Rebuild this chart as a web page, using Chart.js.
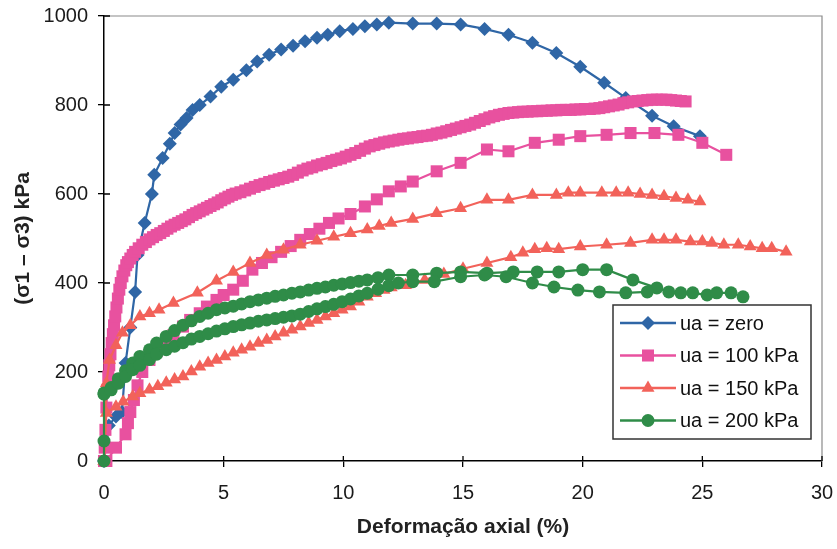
<!DOCTYPE html>
<html><head><meta charset="utf-8">
<script src="https://cdn.jsdelivr.net/npm/chart.js@4/dist/chart.umd.min.js"></script>
<style>html,body{margin:0;padding:0;background:#fff}#wrap{width:837px;height:549px;position:relative}</style>
</head><body><div id="wrap"><canvas id="c" width="837" height="549"></canvas></div>
<script>
// ---- data ----
const xTicks = [0, 5, 10, 15, 20, 25, 30];
const yTicks = [0, 200, 400, 600, 800, 1000];
const xTitle = 'Deformação axial (%)';
const yTitle = '(σ1 – σ3) kPa';
const seriesNames = ['ua = zero', 'ua = 100 kPa', 'ua = 150 kPa', 'ua = 200 kPa'];

// ua = zero
const zeroX = [0, 0.2, 0.5, 0.75, 0.9, 1.1, 1.3, 1.4, 1.7, 2.0, 2.1, 2.45, 2.75, 2.95, 3.2, 3.45, 3.7, 4.0, 4.45, 4.9, 5.4, 5.95, 6.4, 6.9, 7.4, 7.9, 8.4, 8.9, 9.35, 9.85, 10.4, 10.9, 11.4, 11.9, 12.9, 13.9, 14.9, 15.9, 16.9, 17.9, 18.9, 19.9, 20.9, 21.8, 22.9, 23.8, 24.9];
const zeroY = [0, 80, 100, 110, 220, 300, 380, 463, 535, 600, 643, 681, 713, 737, 756, 771, 789, 800, 819, 841, 857, 878, 898, 913, 925, 933, 943, 951, 958, 966, 971, 977, 981, 985, 983, 983, 981, 971, 958, 940, 917, 886, 850, 816, 776, 752, 730];

// ua = 100 kPa, test A (dense)
const p100aX = [0, 0.03, 0.06, 0.1, 0.14, 0.18, 0.22, 0.27, 0.32, 0.37, 0.42, 0.47, 0.52, 0.58, 0.64, 0.7, 0.77, 0.85, 0.93, 1.0, 1.1, 1.2, 1.3, 1.45, 1.6, 1.75, 1.9, 2.05, 2.2, 2.35, 2.5, 2.65, 2.8, 2.95, 3.1, 3.25, 3.4, 3.55, 3.7, 3.85, 4.0, 4.15, 4.3, 4.45, 4.6, 4.75, 4.9, 5.05, 5.2, 5.35, 5.5, 5.7, 5.9, 6.1, 6.3, 6.5, 6.7, 6.9, 7.1, 7.3, 7.5, 7.7, 7.9, 8.1, 8.3, 8.5, 8.7, 8.9, 9.1, 9.3, 9.5, 9.7, 9.9, 10.1, 10.3, 10.5, 10.7, 10.9, 11.1, 11.3, 11.5, 11.7, 11.9, 12.1, 12.3, 12.5, 12.7, 12.9, 13.1, 13.3, 13.5, 13.7, 13.9, 14.1, 14.3, 14.5, 14.7, 14.9, 15.1, 15.3, 15.5, 15.7, 15.9, 16.1, 16.3, 16.5, 16.7, 16.9, 17.1, 17.3, 17.5, 17.7, 17.9, 18.1, 18.3, 18.5, 18.7, 18.9, 19.1, 19.3, 19.5, 19.7, 19.9, 20.1, 20.3, 20.5, 20.7, 20.9, 21.1, 21.3, 21.5, 21.7, 21.9, 22.1, 22.3, 22.5, 22.7, 22.9, 23.1, 23.3, 23.5, 23.7, 23.9, 24.1, 24.3];
const p100aY = [0, 30, 70, 120, 160, 190, 215, 240, 265, 285, 305, 325, 345, 365, 385, 400, 415, 428, 440, 447, 455, 463, 470, 478, 486, 492, 498, 503, 508, 512, 517, 522, 527, 531, 535, 539, 543, 548, 553, 557, 561, 565, 569, 573, 577, 581, 586, 590, 594, 598, 601, 604, 608, 612, 616, 620, 623, 627, 630, 633, 636, 639, 643, 648, 653, 657, 660, 664, 667, 670, 674, 677, 680, 684, 688, 692, 697, 702, 707, 710, 713, 716, 718, 720, 722, 724, 725, 727, 728, 730, 731, 733, 736, 738, 741, 744, 747, 750, 753, 756, 760, 764, 768, 772, 775, 778, 780, 782, 783, 784, 785, 785, 786, 786, 787, 787, 788, 788, 789, 789, 789, 790, 790, 791, 791, 792, 793, 795, 797, 799, 801, 804, 806, 808, 809, 810, 811, 812, 812, 812, 812, 811, 810, 809, 808];

// ua = 100 kPa, test B
const p100bX = [0.1, 0.5, 0.9, 1.0, 1.1, 1.25, 1.4, 1.6, 1.9, 2.2, 2.6, 2.9, 3.3, 3.6, 4.0, 4.3, 4.7, 5.0, 5.4, 5.8, 6.2, 6.6, 7.0, 7.4, 7.8, 8.2, 8.6, 9.0, 9.4, 9.8, 10.3, 10.9, 11.4, 11.9, 12.4, 12.9, 13.9, 14.9, 16.0, 16.9, 18.0, 19.0, 19.9, 21.0, 22.0, 23.0, 24.0, 25.0, 26.0];
const p100bY = [0, 30, 60, 85, 110, 137, 170, 200, 227, 247, 265, 283, 302, 317, 332, 347, 362, 373, 385, 405, 430, 445, 458, 470, 483, 497, 510, 522, 535, 545, 555, 572, 588, 606, 617, 628, 651, 670, 700, 696, 715, 722, 730, 733, 737, 737, 733, 715, 688];

// ua = 150 kPa, test A
const p150aX = [0, 0.1, 0.23, 0.5, 0.77, 1.1, 1.5, 1.9, 2.3, 2.9, 3.9, 4.7, 5.4, 6.1, 6.8, 7.5, 8.2, 8.9, 9.6, 10.3, 11.0, 11.5, 12.0, 12.9, 13.9, 14.9, 16.0, 16.9, 17.9, 18.9, 19.4, 19.9, 20.8, 21.4, 21.9, 22.4, 22.9, 23.4, 23.9, 24.4, 24.9];
const p150aY = [0, 175, 227, 260, 288, 305, 325, 332, 340, 355, 378, 405, 425, 445, 463, 475, 486, 495, 504, 512, 520, 528, 535, 544, 557, 568, 587, 587, 598, 598, 603, 603, 603, 603, 603, 600, 598, 595, 591, 587, 583];

// ua = 150 kPa, test B
const p150bX = [0, 0.1, 0.5, 0.8, 1.2, 1.5, 1.9, 2.25, 2.6, 2.95, 3.3, 3.65, 4.0, 4.35, 4.7, 5.05, 5.4, 5.75, 6.1, 6.45, 6.8, 7.15, 7.5, 7.85, 8.2, 8.55, 8.9, 9.25, 9.6, 9.95, 10.3, 10.65, 11.0, 11.35, 11.7, 12.0, 12.6, 13.4, 14.2, 15.0, 16.0, 17.0, 17.5, 18.0, 18.5, 19.0, 19.9, 21.0, 22.0, 22.9, 23.4, 23.9, 24.5, 25.0, 25.4, 25.9, 26.5, 27.0, 27.5, 27.9, 28.5];
const p150bY = [0, 108, 122, 133, 145, 152, 160, 168, 176, 183, 190, 201, 212, 220, 227, 235, 243, 250, 257, 265, 272, 280, 288, 295, 302, 310, 317, 325, 332, 340, 347, 358, 369, 377, 384, 390, 395, 407, 420, 432, 445, 458, 468, 476, 478, 476, 482, 486, 490, 497, 497, 497, 493, 493, 490, 486, 486, 482, 478, 478, 470];

// ua = 200 kPa, test A
const p200aX = [0, 0, 0, 0.3, 0.6, 0.9, 1.2, 1.5, 1.9, 2.2, 2.6, 2.95, 3.3, 3.65, 4.0, 4.35, 4.7, 5.05, 5.4, 5.75, 6.1, 6.45, 6.8, 7.15, 7.5, 7.85, 8.2, 8.55, 8.9, 9.25, 9.6, 9.95, 10.3, 10.65, 11.0, 11.45, 11.9, 12.9, 13.9, 14.9, 16.0, 17.1, 18.1, 19.0, 20.0, 21.0, 22.1, 23.1, 23.6, 24.1, 24.6, 25.2, 25.6, 26.2, 26.7];
const p200aY = [0, 45, 153, 165, 185, 203, 220, 235, 250, 265, 280, 293, 305, 315, 325, 332, 340, 344, 348, 353, 358, 362, 366, 370, 373, 377, 380, 384, 388, 391, 395, 398, 401, 404, 407, 412, 418, 418, 422, 425, 422, 425, 425, 425, 430, 430, 407, 389, 380, 378, 378, 373, 378, 378, 369];

// ua = 200 kPa, test B
const p200bX = [0, 0.3, 0.6, 0.9, 1.2, 1.5, 1.9, 2.2, 2.6, 2.95, 3.3, 3.65, 4.0, 4.35, 4.7, 5.05, 5.4, 5.75, 6.1, 6.45, 6.8, 7.15, 7.5, 7.85, 8.2, 8.55, 8.9, 9.25, 9.6, 9.95, 10.3, 10.65, 11.0, 11.45, 11.9, 12.3, 12.9, 13.8, 14.9, 15.9, 16.8, 17.9, 18.8, 19.8, 20.7, 21.8, 22.7];
const p200bY = [150, 160, 175, 190, 205, 215, 228, 240, 250, 258, 266, 274, 280, 286, 292, 297, 302, 306, 310, 314, 317, 320, 323, 326, 330, 336, 342, 347, 352, 358, 364, 371, 377, 386, 394, 400, 403, 403, 414, 418, 414, 400, 391, 384, 380, 378, 380];

// ---- styles ----
const FONT = 'Arial, "Liberation Sans", Helvetica, sans-serif';
const COLORS = ['#2f66a6', '#e8519f', '#f2625a', '#2f8c48'];
const STYLES = ['rectRot', 'rect', 'triangle', 'circle'];
const RADII = [7, 8.5, 7.5, 6.5];

function pts(xs, ys) { return xs.map((x, i) => ({ x: x, y: ys[i] })); }
function ds(xs, ys, k, order) {
  return {
    label: seriesNames[k], data: pts(xs, ys), showLine: true,
    borderColor: COLORS[k], backgroundColor: COLORS[k], borderWidth: 2.2,
    pointStyle: STYLES[k], pointRadius: RADII[k], pointHoverRadius: RADII[k],
    pointBorderWidth: 0, pointBackgroundColor: COLORS[k], tension: 0, clip: false, order: order
  };
}

function drawMarker(ctx, style, x, y, r, color) {
  ctx.save(); ctx.fillStyle = color; ctx.beginPath();
  if (style === 'rectRot') { ctx.moveTo(x, y - r); ctx.lineTo(x + r, y); ctx.lineTo(x, y + r); ctx.lineTo(x - r, y); }
  else if (style === 'rect') { const s = r * Math.SQRT1_2; ctx.rect(x - s, y - s, 2 * s, 2 * s); }
  else if (style === 'triangle') { const w = r * Math.sqrt(3) / 2; ctx.moveTo(x, y - r); ctx.lineTo(x + w, y + r / 2); ctx.lineTo(x - w, y + r / 2); }
  else { ctx.arc(x, y, r, 0, Math.PI * 2); }
  ctx.closePath(); ctx.fill(); ctx.restore();
}

const framePlugin = {
  id: 'frame',
  beforeDatasetsDraw(chart) {
    const { ctx, chartArea: a, scales } = chart;
    ctx.save();
    ctx.strokeStyle = '#8a8a8a'; ctx.lineWidth = 1.2;
    ctx.beginPath(); ctx.moveTo(a.left, a.top); ctx.lineTo(a.right, a.top); ctx.lineTo(a.right, a.bottom); ctx.stroke();
    ctx.strokeStyle = '#000'; ctx.lineWidth = 1.3;
    ctx.beginPath();
    xTicks.forEach(v => { const px = scales.x.getPixelForValue(v); ctx.moveTo(px, a.bottom); ctx.lineTo(px, a.bottom - 5); });
    yTicks.forEach(v => { const py = scales.y.getPixelForValue(v); ctx.moveTo(a.left, py); ctx.lineTo(a.left + 6, py); });
    ctx.stroke();
    ctx.restore();
  },
  afterDraw(chart) {
    const ctx = chart.ctx;
    const L = 613, T = 305, R = 811, B = 439;
    ctx.save();
    ctx.fillStyle = '#fff'; ctx.fillRect(L, T, R - L, B - T);
    ctx.strokeStyle = '#333'; ctx.lineWidth = 1.5; ctx.strokeRect(L, T, R - L, B - T);
    ctx.font = '20px ' + FONT; ctx.textBaseline = 'middle'; ctx.textAlign = 'left';
    seriesNames.forEach((name, k) => {
      const y = 323 + k * 32.5;
      ctx.strokeStyle = COLORS[k]; ctx.lineWidth = 2.5;
      ctx.beginPath(); ctx.moveTo(620, y); ctx.lineTo(676, y); ctx.stroke();
      drawMarker(ctx, STYLES[k], 648, y, RADII[k], COLORS[k]);
      ctx.fillStyle = '#111';
      ctx.fillText(name, 680, y + 1);
    });
    ctx.restore();
  }
};

new Chart(document.getElementById('c'), {
  type: 'scatter',
  data: {
    datasets: [
      ds(zeroX, zeroY, 0, 6),
      ds(p100aX, p100aY, 1, 5),
      ds(p100bX, p100bY, 1, 4),
      ds(p150aX, p150aY, 2, 3),
      ds(p150bX, p150bY, 2, 2),
      ds(p200aX, p200aY, 3, 1),
      ds(p200bX, p200bY, 3, 0)
    ]
  },
  options: {
    responsive: false, animation: false, devicePixelRatio: 1,
    layout: { padding: { top: 16, right: 15, left: 0, bottom: 0 } },
    plugins: { legend: { display: false }, tooltip: { enabled: false } },
    events: [],
    scales: {
      x: {
        type: 'linear', min: 0, max: 30,
        afterBuildTicks(s) { s.ticks = xTicks.map(v => ({ value: v })); },
        afterFit(s) { s.height = 88; s.paddingLeft = 0; s.paddingRight = 0; },
        ticks: { font: { family: FONT, size: 20 }, color: '#1a1a1a', padding: 14, maxRotation: 0, callback: v => String(v) },
        grid: { drawOnChartArea: false, drawTicks: true, tickLength: 6, color: '#000', lineWidth: 1.3 },
        border: { color: '#000', width: 1.5 },
        title: { display: true, text: xTitle, font: { family: FONT, size: 21, weight: 'bold' }, color: '#222', padding: { top: 9, bottom: 9 } }
      },
      y: {
        type: 'linear', min: 0, max: 1000,
        afterBuildTicks(s) { s.ticks = yTicks.map(v => ({ value: v })); },
        afterFit(s) { s.width = 104; s.paddingTop = 0; s.paddingBottom = 0; },
        ticks: { font: { family: FONT, size: 20 }, color: '#1a1a1a', padding: 10, callback: v => String(v) },
        grid: { drawOnChartArea: false, drawTicks: true, tickLength: 6, color: '#000', lineWidth: 1.3 },
        border: { color: '#000', width: 1.5 },
        title: { display: true, text: yTitle, font: { family: FONT, size: 21, weight: 'bold' }, color: '#222', padding: { top: 11, bottom: 11 } }
      }
    }
  },
  plugins: [framePlugin]
});
</script>
</body></html>
